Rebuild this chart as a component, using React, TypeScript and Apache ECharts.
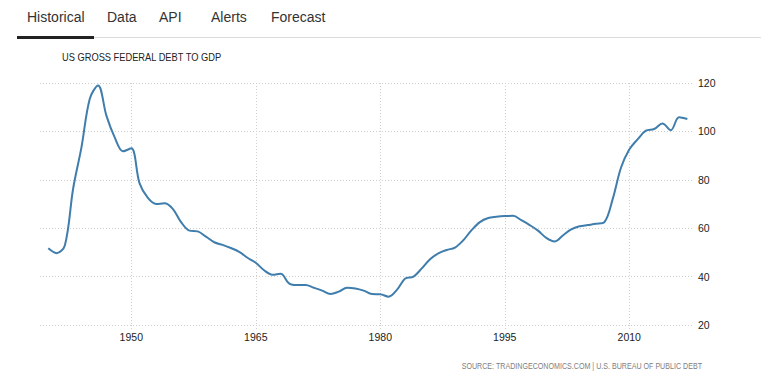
import React, { useEffect, useRef } from "react";
import * as echarts from "echarts";

const years: number[] = [
  1940, 1941, 1942, 1943, 1944, 1945, 1946, 1947, 1948, 1949,
  1950, 1951, 1952, 1953, 1954, 1955, 1956, 1957, 1958, 1959,
  1960, 1961, 1962, 1963, 1964, 1965, 1966, 1967, 1968, 1969,
  1970, 1971, 1972, 1973, 1974, 1975, 1976, 1977, 1978, 1979,
  1980, 1981, 1982, 1983, 1984, 1985, 1986, 1987, 1988, 1989,
  1990, 1991, 1992, 1993, 1994, 1995, 1996, 1997, 1998, 1999,
  2000, 2001, 2002, 2003, 2004, 2005, 2006, 2007, 2008, 2009,
  2010, 2011, 2012, 2013, 2014, 2015, 2016, 2017,
];

const debtToGdp: number[] = [
  51.7, 49.7, 53.0, 76.5, 93.5, 113.5, 119.0, 106.5, 97.5, 91.8,
  93.0, 78.5, 72.5, 70.0, 70.3, 68.0, 62.5, 59.0, 58.7, 56.5,
  54.2, 53.1, 51.8, 50.2, 47.8, 45.7, 42.6, 40.8, 41.2, 37.2,
  36.5, 36.5, 35.4, 34.2, 32.8, 33.8, 35.4, 35.1, 34.2, 32.8,
  32.7, 31.7, 34.5, 39.2, 40.0, 43.4, 47.2, 49.6, 51.0, 52.0,
  55.0, 59.2, 62.5, 64.2, 64.7, 65.0, 65.1, 63.3, 61.3, 59.0,
  56.0, 54.5, 57.0, 59.5, 60.8, 61.3, 61.8, 62.5, 72.0, 85.0,
  92.5, 96.7, 100.3, 101.0, 103.3, 100.5, 105.8, 105.1,
];

const xTickYears: number[] = [1950, 1965, 1980, 1995, 2010];
const tabs: string[] = ["Historical", "Data", "API", "Alerts", "Forecast"];
const tabX: number[] = [27, 107, 159, 211, 271];
const chartTitle = "US GROSS FEDERAL DEBT TO GDP";
const sourceText = "SOURCE: TRADINGECONOMICS.COM | U.S. BUREAU OF PUBLIC DEBT";

export default function App() {
  const ref = useRef<HTMLDivElement>(null);

  useEffect(() => {
    if (!ref.current) return;
    const chart = echarts.init(ref.current, undefined, { renderer: "svg" });
    const font = "'Liberation Sans', Arial, sans-serif";
    const grid = { color: "#cfcfcf", type: [1, 2] as any, width: 1 };

    const graphics: any[] = [];
    tabs.forEach((t, i) => {
      graphics.push({
        type: "text",
        x: tabX[i],
        y: 17,
        style: {
          text: t,
          fill: "#333",
          fontSize: 14,
          fontFamily: font,
          verticalAlign: "middle",
          align: "left",
        },
      });
    });
    graphics.push({
      type: "rect",
      shape: { x: 17, y: 37, width: 744, height: 1 },
      style: { fill: "#dcdcdc" },
    });
    graphics.push({
      type: "rect",
      shape: { x: 17, y: 36, width: 77, height: 3 },
      style: { fill: "#222" },
    });
    graphics.push({
      type: "text",
      x: 62,
      y: 57.5,
      scaleX: 0.845,
      style: {
        text: chartTitle,
        fill: "#222",
        fontSize: 11,
        fontFamily: font,
        verticalAlign: "middle",
        align: "left",
      },
    });
    graphics.push({
      type: "text",
      x: 702,
      y: 366,
      scaleX: 0.79,
      style: {
        text: sourceText,
        fill: "#808080",
        fontSize: 9,
        fontFamily: font,
        verticalAlign: "middle",
        align: "right",
      },
    });

    chart.setOption({
      animation: false,
      backgroundColor: "#fff",
      grid: { left: 40, right: 67, top: 83, bottom: 49, containLabel: false },
      graphic: graphics,
      xAxis: {
        type: "value",
        min: 1939,
        max: 2017.8,
        axisLine: { show: false },
        axisTick: {
          show: true,
          customValues: xTickYears,
          length: 5,
          lineStyle: grid,
        },
        axisLabel: {
          customValues: xTickYears,
          color: "#222",
          fontSize: 10.5,
          fontFamily: font,
          margin: 6,
          formatter: (v: number) => String(Math.round(v)),
        },
        splitLine: { show: true, lineStyle: grid },
      },
      yAxis: {
        type: "value",
        position: "right",
        min: 20,
        max: 120,
        interval: 20,
        axisLine: { show: false },
        axisTick: { show: false },
        axisLabel: {
          color: "#222",
          fontSize: 10.5,
          fontFamily: font,
          margin: 4,
        },
        splitLine: { show: true, lineStyle: grid },
      },
      series: [
        {
          type: "line",
          data: years.map((y, i) => [y, debtToGdp[i]]),
          smooth: 0.35,
          showSymbol: false,
          lineStyle: { color: "#3f7dad", width: 2 },
          itemStyle: { color: "#3f7dad" },
        },
      ],
    });
    return () => chart.dispose();
  }, []);

  return (
    <div
      ref={ref}
      style={{ position: "absolute", left: 0, top: 0, width: 761, height: 374, background: "#fff" }}
    />
  );
}
